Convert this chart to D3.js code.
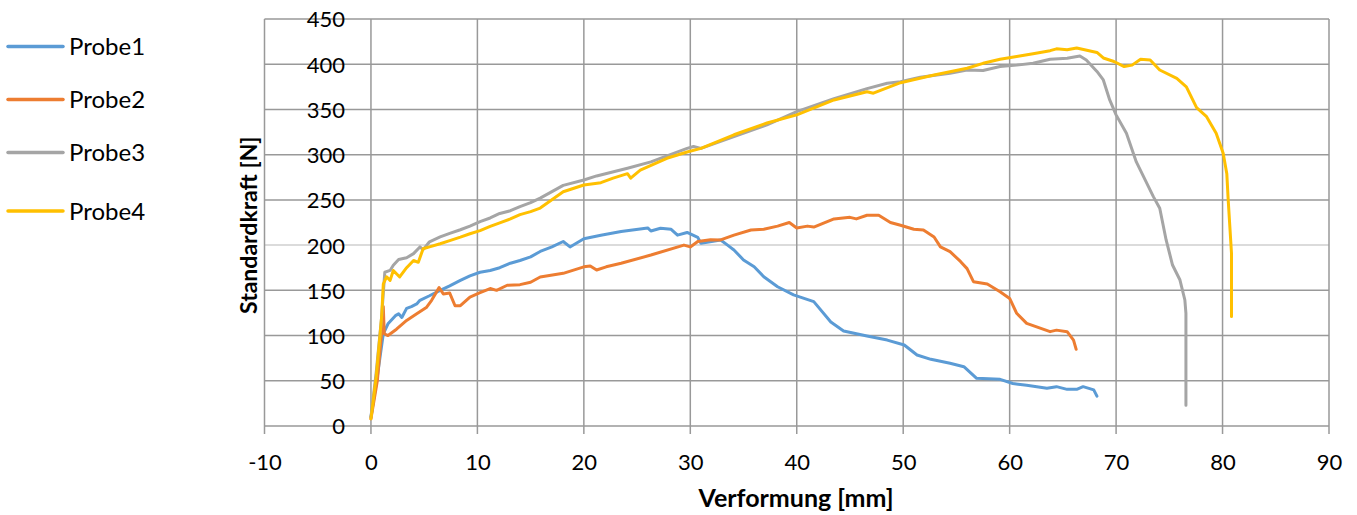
<!DOCTYPE html>
<html>
<head>
<meta charset="utf-8">
<script src="https://cdn.jsdelivr.net/npm/d3@7"></script>
<style>
    body { margin: 0; background: #fff; }
    svg text { font-family: Lato, "Open Sans", sans-serif; fill: #000; }
    .grid line { stroke: #999; stroke-width: 1.5; }
    .series { fill: none; stroke-width: 3; stroke-linejoin: round; stroke-linecap: round; }
</style>
</head>
<body>
<svg class="graph" width="1357" height="515"></svg>
<script>
var seriesNames = ["Probe1", "Probe2", "Probe3", "Probe4"];
var seriesColors = ["#5b9bd5", "#ed7d31", "#a5a5a5", "#ffc000"];
var xTicks = [-10, 0, 10, 20, 30, 40, 50, 60, 70, 80, 90];
var yTicks = [0, 50, 100, 150, 200, 250, 300, 350, 400, 450];

// [Verformung mm, Standardkraft N]
var probe1 = [
    [0, 10], [0.6, 55], [1.16, 102], [1.6, 113], [2.3, 122], [2.6, 124], [2.9, 120], [3.35, 130],
    [3.8, 132], [4.3, 135], [4.6, 139], [5.5, 144], [6.5, 150], [7.4, 155], [8.4, 161], [9.3, 166],
    [10.25, 170], [11.2, 172], [12.1, 175], [13.1, 180], [14, 183], [15, 187], [15.9, 193],
    [17, 198], [18.06, 204], [18.7, 198], [20, 207], [21.6, 211], [23.5, 215], [26, 219],
    [26.3, 215.6], [27.2, 218.6], [28.2, 217.5], [28.8, 211], [29.7, 214], [30.7, 208.6],
    [31, 202], [32, 204], [32.85, 205.7], [33.5, 200], [34.1, 194.6], [35, 183.6], [36, 176],
    [36.9, 165], [38.2, 154], [39.7, 145], [41.6, 137.5], [43.2, 115], [44.4, 105], [46.6, 99.5],
    [48.5, 95], [50.1, 89.6], [51.3, 78.5], [52.6, 73.7], [54.4, 69.3], [55.7, 65.6], [56.9, 52.7],
    [59.1, 51.6], [60.3, 47], [61.6, 45], [63.5, 41.7], [64.4, 43.5], [65.4, 40.5], [66.3, 40.5],
    [66.9, 43.5], [67.9, 40], [68.2, 33]
];
var probe2 = [
    [0, 8], [0.6, 50], [1.05, 110], [1.16, 132], [1.25, 102], [1.6, 100], [2.4, 107], [3.35, 116.7],
    [4.3, 124], [5.2, 131], [5.7, 139], [6.4, 153], [6.8, 146], [7.4, 147], [7.9, 133], [8.4, 133],
    [9.3, 142.6], [10.25, 147.4], [11.2, 152], [11.8, 150], [12.8, 155.6], [14, 156.3], [15, 159],
    [15.9, 164.8], [18.06, 168.8], [20, 176], [20.6, 177], [21.2, 172.5], [22.1, 176], [23.5, 180],
    [26.3, 189], [29.4, 200], [30, 198], [30.7, 204], [31.9, 206], [32.85, 205.7], [34.1, 211],
    [35.7, 216.7], [36.9, 217.5], [38.2, 221], [39.3, 225], [40, 219], [41, 221], [41.6, 220],
    [43.5, 229], [45, 230.7], [45.6, 229], [46.6, 233], [47.7, 233], [48.8, 225], [49.75, 222],
    [51, 217.5], [51.9, 216.7], [52.9, 209], [53.5, 198], [54.4, 192.8], [55.4, 181.7], [56, 174],
    [56.6, 159.6], [57.9, 157], [59.1, 148.5], [60, 141], [60.66, 124.6], [61.6, 113.5],
    [63.8, 104.3], [64.4, 106], [65.4, 104.3], [66, 95], [66.25, 84.8]
];
var probe3 = [
    [0, 10], [0.5, 60], [1.0, 120], [1.3, 170], [1.8, 172], [2.1, 177.8], [2.6, 184], [3.35, 186],
    [4, 190.6], [4.6, 198], [4.9, 195], [5.5, 203.7], [6.5, 209], [7.4, 213], [8.4, 217], [9.3, 221],
    [10.25, 226], [11.2, 230], [12.1, 235], [13.1, 238], [14, 242.6], [15, 247], [15.9, 252],
    [18.06, 266], [20, 272], [21.2, 276.5], [24.1, 285], [26.3, 292], [29.7, 307], [30.3, 309],
    [31, 307], [34.1, 320], [37.2, 333], [40, 347.6], [43.5, 362], [46.6, 373], [48.5, 379],
    [49.75, 380.7], [51.6, 385.6], [54.4, 390], [56, 393.6], [57.5, 393], [59.1, 397.4],
    [60.66, 399], [62.2, 401], [63.8, 405.5], [65.4, 406.5], [66.6, 409], [67.2, 404.7],
    [68.2, 392], [68.8, 382.6], [69.4, 360.5], [70, 344], [70.97, 323.6], [71.9, 292],
    [73.5, 253.6], [74.1, 240.7], [74.7, 205.7], [75.3, 178], [76, 161.4], [76.46, 139.3],
    [76.56, 124.6], [76.56, 23]
];
var probe4 = [
    [0, 8], [0.5, 55], [1.0, 120], [1.16, 157], [1.47, 165], [1.8, 161], [2.1, 172], [2.7, 164.8],
    [3.35, 175], [4, 183], [4.45, 181], [4.9, 196], [5.5, 198], [6.5, 201.5], [7.4, 205],
    [8.4, 208.8], [9.3, 212.6], [10.25, 216], [11.2, 220.7], [12.1, 224.5], [13.1, 229], [14, 233.7],
    [15, 237], [15.9, 241], [18.06, 259], [20, 266.5], [21.6, 269], [22.75, 274], [24.1, 279],
    [24.4, 274], [25.3, 283], [27.8, 296], [29.7, 303], [31, 307], [34.1, 322], [37.2, 335],
    [40, 344], [43.5, 360.5], [46.6, 369.6], [47.2, 368], [49.75, 379.6], [52.9, 388], [56, 395.5],
    [57.5, 401], [59.1, 405.5], [60.66, 408.5], [62.2, 411.5], [63.8, 415], [64.4, 417],
    [65.4, 416], [66.3, 418], [68.2, 413], [68.8, 406.9], [69.8, 403], [70.76, 397.4], [71.5, 399],
    [72.3, 405.5], [73.2, 404.7], [74.1, 393.6], [75.7, 384.3], [76.6, 375], [77.56, 352],
    [78.5, 342], [79.4, 323.6], [80.06, 301.5], [80.4, 279], [80.53, 250], [80.84, 191],
    [80.84, 121]
];
var seriesData = [probe1, probe2, probe3, probe4];

var svg = d3.select("svg.graph");
var xScale = d3.scaleLinear().domain([-10, 90]).range([264.5, 1329]);
var yScale = d3.scaleLinear().domain([0, 450]).range([426, 19]);

// gridlines
var grid = svg.append("g").classed("grid", true);
grid.selectAll("line.h")
    .data(yTicks)
    .enter()
    .append("line")
    .classed("h", true)
    .attr("x1", xScale(-10))
    .attr("x2", xScale(90))
    .attr("y1", function (d) { return yScale(d); })
    .attr("y2", function (d) { return yScale(d); })
    .style("stroke", function (d) { return d === 200 ? "#cfcfcf" : null; });
grid.selectAll("line.v")
    .data(xTicks)
    .enter()
    .append("line")
    .classed("v", true)
    .attr("x1", function (d) { return xScale(d); })
    .attr("x2", function (d) { return xScale(d); })
    .attr("y1", yScale(450))
    .attr("y2", yScale(0) + 8);

// axes (vertical axis crosses at x = 0, as in the spreadsheet)
var xAxis = d3.axisBottom(xScale).tickValues(xTicks).tickSize(0).tickPadding(28)
    .tickFormat(function (d) { return String(d); });
var yAxis = d3.axisLeft(yScale).tickValues(yTicks).tickSize(0).tickPadding(26);

var xAxisG = svg.append("g")
    .attr("transform", "translate(0," + yScale(0) + ")")
    .call(xAxis);
var yAxisG = svg.append("g")
    .attr("transform", "translate(" + xScale(0) + ",0)")
    .call(yAxis);
[xAxisG, yAxisG].forEach(function (g) {
    g.select(".domain").remove();
    g.selectAll("text")
        .style("font-size", "22px")
        .style("font-family", "Lato, sans-serif")
        .attr("fill", "#000");
});
yAxisG.selectAll("text").attr("dy", "0.36em");

svg.append("text")
    .attr("x", 796)
    .attr("y", 507)
    .attr("text-anchor", "middle")
    .style("font-size", "25px")
    .style("font-weight", "bold")
    .text("Verformung [mm]");

svg.append("text")
    .attr("transform", "translate(257," + yScale(222) + ") rotate(-90)")
    .attr("text-anchor", "middle")
    .style("font-size", "23px")
    .style("font-weight", "bold")
    .text("Standardkraft [N]");

// series
var line = d3.line()
    .x(function (d) { return xScale(d[0]); })
    .y(function (d) { return yScale(d[1]); });

svg.selectAll("path.series")
    .data(seriesData)
    .enter()
    .append("path")
    .classed("series", true)
    .attr("stroke", function (d, i) { return seriesColors[i]; })
    .attr("d", line);

// legend
var legendY = [46.5, 99.5, 152.5, 211];
var legend = svg.selectAll("g.legend")
    .data(seriesNames)
    .enter()
    .append("g")
    .classed("legend", true)
    .attr("transform", function (d, i) { return "translate(8," + legendY[i] + ")"; });
legend.append("line")
    .attr("x1", 0)
    .attr("x2", 55)
    .attr("stroke", function (d, i) { return seriesColors[i]; })
    .attr("stroke-width", 3.5)
    .attr("stroke-linecap", "round");
legend.append("text")
    .attr("x", 61)
    .attr("dy", "0.36em")
    .style("font-size", "24px")
    .text(function (d) { return d; });
</script>
</body>
</html>
